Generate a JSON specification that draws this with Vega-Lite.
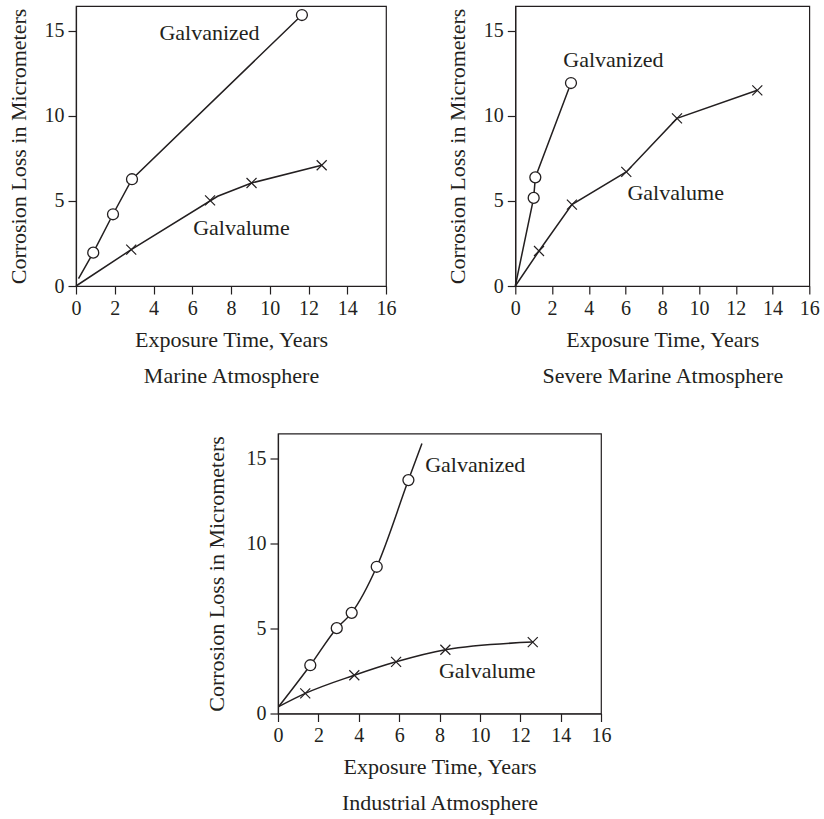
{
  "$schema": "https://vega.github.io/schema/vega-lite/v6.json",
  "padding": {"left": 6, "top": 5, "right": 0, "bottom": 0},
  "background": "white",
  "config": {
    "font": "Liberation Serif",
    "view": {"stroke": "#231f20", "strokeWidth": 1.2},
    "axis": {
      "grid": false,
      "domainColor": "#231f20", "domainWidth": 1.2,
      "tickColor": "#231f20", "tickWidth": 1.2, "tickSize": 8,
      "labelColor": "#231f20", "titleColor": "#231f20",
      "labelFont": "Liberation Serif", "titleFont": "Liberation Serif",
      "labelFontSize": 20, "titleFontSize": 22, "titleFontWeight": "normal",
      "labelPadding": 4, "labelFlush": false, "labelOverlap": false
    }
  },
  "datasets": {
    "lines": [
      {"panel": 1, "series": "Galvanized", "x": 0.13, "y": 0.43},
      {"panel": 1, "series": "Galvanized", "x": 0.89, "y": 1.96},
      {"panel": 1, "series": "Galvanized", "x": 1.91, "y": 4.22},
      {"panel": 1, "series": "Galvanized", "x": 2.89, "y": 6.28},
      {"panel": 1, "series": "Galvanized", "x": 11.66, "y": 15.94},
      {"panel": 1, "series": "Galvalume", "x": 0, "y": 0},
      {"panel": 1, "series": "Galvalume", "x": 2.85, "y": 2.14},
      {"panel": 1, "series": "Galvalume", "x": 7.31, "y": 5.28},
      {"panel": 1, "series": "Galvalume", "x": 9.06, "y": 6.06},
      {"panel": 1, "series": "Galvalume", "x": 12.68, "y": 7.1},
      {"panel": 2, "series": "Galvanized", "x": 0, "y": 0},
      {"panel": 2, "series": "Galvanized", "x": 1.0, "y": 5.18},
      {"panel": 2, "series": "Galvanized", "x": 1.09, "y": 6.39},
      {"panel": 2, "series": "Galvanized", "x": 3.03, "y": 11.94},
      {"panel": 2, "series": "Galvalume", "x": 0, "y": 0},
      {"panel": 2, "series": "Galvalume", "x": 1.29, "y": 2.06},
      {"panel": 2, "series": "Galvalume", "x": 3.08, "y": 4.79},
      {"panel": 2, "series": "Galvalume", "x": 6.04, "y": 6.71},
      {"panel": 2, "series": "Galvalume", "x": 8.8, "y": 9.86},
      {"panel": 2, "series": "Galvalume", "x": 13.17, "y": 11.51},
      {"panel": 3, "series": "Galvanized", "x": 0.03, "y": 0.4},
      {"panel": 3, "series": "Galvanized", "x": 1.6, "y": 2.84},
      {"panel": 3, "series": "Galvanized", "x": 2.91, "y": 5.02},
      {"panel": 3, "series": "Galvanized", "x": 3.65, "y": 5.92},
      {"panel": 3, "series": "Galvanized", "x": 4.89, "y": 8.63},
      {"panel": 3, "series": "Galvanized", "x": 6.46, "y": 13.73},
      {"panel": 3, "series": "Galvanized", "x": 7.13, "y": 15.88},
      {"panel": 3, "series": "Galvalume", "x": 0.03, "y": 0.4},
      {"panel": 3, "series": "Galvalume", "x": 1.35, "y": 1.18},
      {"panel": 3, "series": "Galvalume", "x": 3.78, "y": 2.25},
      {"panel": 3, "series": "Galvalume", "x": 5.85, "y": 3.04},
      {"panel": 3, "series": "Galvalume", "x": 8.29, "y": 3.75},
      {"panel": 3, "series": "Galvalume", "x": 12.62, "y": 4.2}
    ],
    "markers": [
      {"panel": 1, "series": "Galvanized", "x": 0.89, "y": 1.96},
      {"panel": 1, "series": "Galvanized", "x": 1.91, "y": 4.22},
      {"panel": 1, "series": "Galvanized", "x": 2.89, "y": 6.28},
      {"panel": 1, "series": "Galvanized", "x": 11.66, "y": 15.94},
      {"panel": 1, "series": "Galvalume", "x": 2.85, "y": 2.14},
      {"panel": 1, "series": "Galvalume", "x": 6.92, "y": 5.04},
      {"panel": 1, "series": "Galvalume", "x": 9.06, "y": 6.06},
      {"panel": 1, "series": "Galvalume", "x": 12.68, "y": 7.1},
      {"panel": 2, "series": "Galvanized", "x": 1.0, "y": 5.18},
      {"panel": 2, "series": "Galvanized", "x": 1.09, "y": 6.39},
      {"panel": 2, "series": "Galvanized", "x": 3.03, "y": 11.94},
      {"panel": 2, "series": "Galvalume", "x": 1.29, "y": 2.06},
      {"panel": 2, "series": "Galvalume", "x": 3.08, "y": 4.79},
      {"panel": 2, "series": "Galvalume", "x": 6.04, "y": 6.71},
      {"panel": 2, "series": "Galvalume", "x": 8.8, "y": 9.86},
      {"panel": 2, "series": "Galvalume", "x": 13.17, "y": 11.51},
      {"panel": 3, "series": "Galvanized", "x": 1.6, "y": 2.84},
      {"panel": 3, "series": "Galvanized", "x": 2.91, "y": 5.02},
      {"panel": 3, "series": "Galvanized", "x": 3.65, "y": 5.92},
      {"panel": 3, "series": "Galvanized", "x": 4.89, "y": 8.63},
      {"panel": 3, "series": "Galvanized", "x": 6.46, "y": 13.73},
      {"panel": 3, "series": "Galvalume", "x": 1.35, "y": 1.18},
      {"panel": 3, "series": "Galvalume", "x": 3.78, "y": 2.25},
      {"panel": 3, "series": "Galvalume", "x": 5.85, "y": 3.04},
      {"panel": 3, "series": "Galvalume", "x": 8.29, "y": 3.75},
      {"panel": 3, "series": "Galvalume", "x": 12.62, "y": 4.2}
    ],
    "labels": [
      {"panel": 1, "text": "Galvanized", "x": 6.89, "y": 14.45},
      {"panel": 1, "text": "Galvalume", "x": 8.54, "y": 2.98},
      {"panel": 2, "text": "Galvanized", "x": 5.34, "y": 12.88},
      {"panel": 2, "text": "Galvalume", "x": 8.73, "y": 5.04},
      {"panel": 3, "text": "Galvanized", "x": 9.77, "y": 14.2},
      {"panel": 3, "text": "Galvalume", "x": 10.36, "y": 2.1}
    ],
    "empty": []
  },
  "vconcat": [
    {
      "hconcat": [
        {
          "width": 310, "height": 280,
          "encoding": {
            "x": {"field": "x", "type": "quantitative", "scale": {"domain": [0, 16], "nice": false, "zero": false},
                  "axis": {"values": [0, 2, 4, 6, 8, 10, 12, 14, 16], "title": ["Exposure Time, Years", "Marine Atmosphere"], "titleLineHeight": 36, "titlePadding": 11}},
            "y": {"field": "y", "type": "quantitative", "scale": {"domain": [0, 16.47], "nice": false},
                  "axis": {"values": [0, 5, 10, 15], "title": "Corrosion Loss in Micrometers", "titlePadding": 14}}
          },
          "layer": [
            {"data": {"name": "lines"}, "transform": [{"filter": "datum.panel == 1"}],
             "mark": {"type": "line", "color": "#231f20", "strokeWidth": 1.5}, "encoding": {"detail": {"field": "series"}}},
            {"data": {"name": "markers"}, "transform": [{"filter": "datum.panel == 1 && datum.series == 'Galvanized'"}],
             "mark": {"type": "point", "shape": "circle", "filled": true, "fill": "white", "stroke": "#231f20", "strokeWidth": 1.3, "size": 120, "opacity": 1}},
            {"data": {"name": "markers"}, "transform": [{"filter": "datum.panel == 1 && datum.series == 'Galvalume'"}],
             "mark": {"type": "point", "shape": "M-1,-1L1,1M-1,1L1,-1", "filled": false, "stroke": "#231f20", "strokeWidth": 1.2, "size": 100, "opacity": 1}},
            {"data": {"name": "labels"}, "transform": [{"filter": "datum.panel == 1"}],
             "mark": {"type": "text", "font": "Liberation Serif", "fontSize": 22, "color": "#231f20", "align": "center", "baseline": "alphabetic"},
             "encoding": {"text": {"field": "text"}}}
          ]
        },
        {
          "width": 294, "height": 280,
          "encoding": {
            "x": {"field": "x", "type": "quantitative", "scale": {"domain": [0, 16], "nice": false, "zero": false},
                  "axis": {"values": [0, 2, 4, 6, 8, 10, 12, 14, 16], "title": ["Exposure Time, Years", "Severe Marine Atmosphere"], "titleLineHeight": 36, "titlePadding": 11}},
            "y": {"field": "y", "type": "quantitative", "scale": {"domain": [0, 16.47], "nice": false},
                  "axis": {"values": [0, 5, 10, 15], "title": "Corrosion Loss in Micrometers", "titlePadding": 14}}
          },
          "layer": [
            {"data": {"name": "lines"}, "transform": [{"filter": "datum.panel == 2"}],
             "mark": {"type": "line", "color": "#231f20", "strokeWidth": 1.5}, "encoding": {"detail": {"field": "series"}}},
            {"data": {"name": "markers"}, "transform": [{"filter": "datum.panel == 2 && datum.series == 'Galvanized'"}],
             "mark": {"type": "point", "shape": "circle", "filled": true, "fill": "white", "stroke": "#231f20", "strokeWidth": 1.3, "size": 120, "opacity": 1}},
            {"data": {"name": "markers"}, "transform": [{"filter": "datum.panel == 2 && datum.series == 'Galvalume'"}],
             "mark": {"type": "point", "shape": "M-1,-1L1,1M-1,1L1,-1", "filled": false, "stroke": "#231f20", "strokeWidth": 1.2, "size": 100, "opacity": 1}},
            {"data": {"name": "labels"}, "transform": [{"filter": "datum.panel == 2"}],
             "mark": {"type": "text", "font": "Liberation Serif", "fontSize": 22, "color": "#231f20", "align": "center", "baseline": "alphabetic"},
             "encoding": {"text": {"field": "text"}}}
          ]
        }
      ],
      "spacing": 129.3,
      "bounds": "flush"
    },
    {
      "hconcat": [
        {
          "width": 1, "height": 1,
          "view": {"stroke": null},
          "data": {"name": "empty"},
          "mark": "point"
        },
        {
          "width": 323, "height": 280,
          "encoding": {
            "x": {"field": "x", "type": "quantitative", "scale": {"domain": [0, 16], "nice": false, "zero": false},
                  "axis": {"values": [0, 2, 4, 6, 8, 10, 12, 14, 16], "title": ["Exposure Time, Years", "Industrial Atmosphere"], "titleLineHeight": 36, "titlePadding": 11}},
            "y": {"field": "y", "type": "quantitative", "scale": {"domain": [0, 16.47], "nice": false},
                  "axis": {"values": [0, 5, 10, 15], "title": "Corrosion Loss in Micrometers", "titlePadding": 18}}
          },
          "layer": [
            {"data": {"name": "lines"}, "transform": [{"filter": "datum.panel == 3"}],
             "mark": {"type": "line", "color": "#231f20", "strokeWidth": 1.5, "interpolate": "monotone"}, "encoding": {"detail": {"field": "series"}}},
            {"data": {"name": "markers"}, "transform": [{"filter": "datum.panel == 3 && datum.series == 'Galvanized'"}],
             "mark": {"type": "point", "shape": "circle", "filled": true, "fill": "white", "stroke": "#231f20", "strokeWidth": 1.3, "size": 120, "opacity": 1}},
            {"data": {"name": "markers"}, "transform": [{"filter": "datum.panel == 3 && datum.series == 'Galvalume'"}],
             "mark": {"type": "point", "shape": "M-1,-1L1,1M-1,1L1,-1", "filled": false, "stroke": "#231f20", "strokeWidth": 1.2, "size": 100, "opacity": 1}},
            {"data": {"name": "labels"}, "transform": [{"filter": "datum.panel == 3"}],
             "mark": {"type": "text", "font": "Liberation Serif", "fontSize": 22, "color": "#231f20", "align": "center", "baseline": "alphabetic"},
             "encoding": {"text": {"field": "text"}}}
          ]
        }
      ],
      "spacing": 201,
      "bounds": "flush"
    }
  ],
  "spacing": 45.5
}
